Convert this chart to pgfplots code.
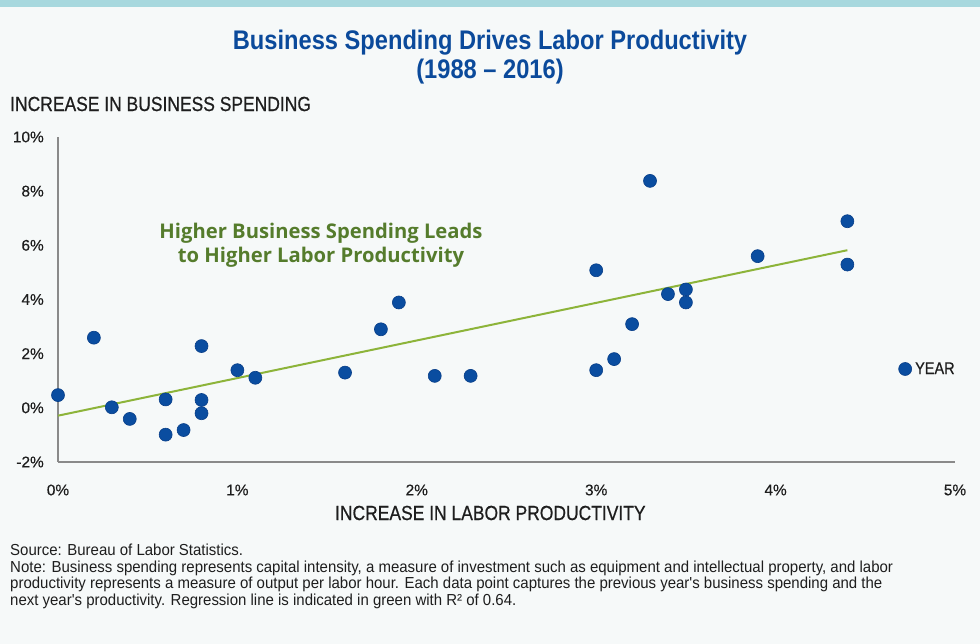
\documentclass[border=0pt]{standalone}
\usepackage{fontspec}
\usepackage{pgfplots}
\pgfplotsset{compat=1.18}
\setmainfont{Liberation Sans}
\newfontfamily\cond{Liberation Sans}[FakeStretch=0.855, FakeBold=0.6]
\newfontfamily\tickfont{Liberation Sans}[FakeBold=0.4]
\newfontfamily\condnote{Liberation Sans}[FakeStretch=0.94]
\newfontfamily\condtitle{Liberation Sans}[FakeStretch=0.88]
\newfontfamily\annot{Open Sans}

\definecolor{bgcol}{HTML}{F6F9F9}
\definecolor{barcol}{HTML}{A7D8DE}
\definecolor{titleblue}{HTML}{0B4A9B}
\definecolor{dotblue}{HTML}{0A4DA0}
\definecolor{dotedge}{HTML}{083E88}
\definecolor{regline}{HTML}{8DB43A}
\definecolor{annotgreen}{HTML}{557C2C}
\definecolor{axisgrey}{HTML}{8A8A8A}
\definecolor{textdark}{HTML}{1E1E1E}

% x: increase in labor productivity (%), y: increase in business spending (%)
\pgfplotstableread{
x     y
0.00  0.47
0.20  2.59
0.30  0.02
0.40  -0.41
0.60  0.31
0.60  -0.99
0.70  -0.82
0.80  2.28
0.80  0.29
0.80  -0.20
1.00  1.39
1.10  1.11
1.60  1.30
1.80  2.90
1.90  3.89
2.10  1.18
2.30  1.18
3.00  5.08
3.00  1.39
3.10  1.80
3.20  3.09
3.30  8.38
3.40  4.20
3.50  4.37
3.50  3.89
3.90  5.60
4.40  6.89
4.40  5.29
}\spending

\begin{document}
\begin{tikzpicture}
\useasboundingbox (0bp,0bp) rectangle (980bp,644bp);
\fill[bgcol] (0bp,0bp) rectangle (980bp,644bp);
\fill[barcol] (0bp,637bp) rectangle (980bp,644bp);

% titles
\node[font=\condtitle\bfseries\fontsize{27}{28}\selectfont, text=titleblue, align=center, anchor=center]
  at (490bp,587bp) {Business Spending Drives Labor Productivity\\[1bp](1988 – 2016)};
\node[font=\cond\fontsize{20.5}{24}\selectfont, text=textdark, anchor=west, inner sep=0pt]
  at (10bp,540bp) {INCREASE IN BUSINESS SPENDING};

\begin{axis}[
  at={(58bp,182bp)}, anchor=south west,
  scale only axis, width=897bp, height=325bp,
  xmin=0, xmax=5, ymin=-2, ymax=10,
  clip=false,
  axis x line*=bottom, axis y line*=left,
  axis line style={draw=axisgrey, line width=1.2bp, -},
  major tick length=0pt,
  xtick={0,1,2,3,4,5},
  xticklabels={0\%,1\%,2\%,3\%,4\%,5\%},
  ytick={-2,0,2,4,6,8,10},
  yticklabels={-2\%,0\%,2\%,4\%,6\%,8\%,10\%},
  tick label style={font=\tickfont\fontsize{15.5}{18}\selectfont, text=textdark, inner sep=0pt},
  xticklabel style={anchor=center, yshift=-28bp},
  yticklabel style={anchor=east, xshift=-14bp},
  xlabel={INCREASE IN LABOR PRODUCTIVITY},
  xlabel style={font=\cond\fontsize{20.5}{24}\selectfont, text=textdark, at={(axis description cs:0.482,0)}, anchor=center, yshift=-51bp, inner sep=0pt},
  legend style={at={(axis cs:4.685,1.434)}, anchor=west, draw=none, fill=none,
    inner sep=0pt, font=\cond\fontsize{17}{20}\selectfont, text=textdark,
    nodes={inner sep=0pt}, /tikz/every odd column/.append style={column sep=3.5bp}},
  legend image code/.code={\draw[#1] plot coordinates {(6.5bp,0bp)};},
]
\addplot[only marks, mark=*, mark size=6.5bp,
  mark options={fill=dotblue, draw=dotedge, line width=0.6bp}] table[x=x,y=y] {\spending};
\addlegendentry{YEAR}
\addplot[regline, line width=2bp] coordinates {(0,-0.29) (4.4,5.82)};
\end{axis}

\node[font=\annot\bfseries\fontsize{20.3}{24}\selectfont, text=annotgreen, align=center]
  at (321bp,399bp) {Higher Business Spending Leads\\to Higher Labor Productivity};

\node[font=\condnote\fontsize{16}{16.5}\selectfont, text=textdark, align=left, anchor=north west, inner sep=0pt]
  at (10bp,100bp) {Source: Bureau of Labor Statistics.\\
Note: Business spending represents capital intensity, a measure of investment such as equipment and intellectual property, and labor\\
productivity represents a measure of output per labor hour. Each data point captures the previous year's business spending and the\\
next year's productivity. Regression line is indicated in green with R² of 0.64.};
\end{tikzpicture}
\end{document}
